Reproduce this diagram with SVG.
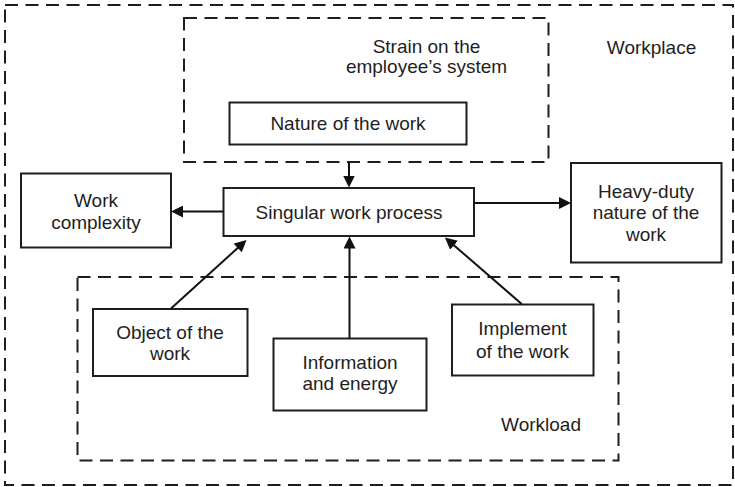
<svg xmlns="http://www.w3.org/2000/svg" width="735" height="487" viewBox="0 0 735 487">
  <style>
    .frame { fill: none; stroke: #1e1e1e; stroke-width: 2; stroke-dasharray: 13 7.5; }
    .box { fill: #ffffff; stroke: #1e1e1e; stroke-width: 2; }
    .lbl { font-family: "Liberation Sans", Arial, sans-serif; font-size: 19px; fill: #1e1e1e; text-anchor: middle; }
    .edge { fill: none; stroke: #111111; stroke-width: 2; }
  </style>
  <defs>
    <marker id="arrow" viewBox="0 0 12 12" refX="6" refY="6" markerWidth="12" markerHeight="12" markerUnits="userSpaceOnUse" orient="auto">
      <path d="M0,0 L12,6 L0,12 z" fill="#111111"/>
    </marker>
  </defs>
  <rect width="735" height="487" fill="#ffffff"/>

  <!-- dashed regions -->
  <g id="workplace">
    <rect class="frame" x="5" y="5" width="728" height="480"/>
    <text class="lbl" x="651.5" y="53.5">Workplace</text>
  </g>
  <g id="strain">
    <rect class="frame" x="184" y="18" width="364.5" height="144"/>
    <text class="lbl" x="426.5" y="53">Strain on the</text>
    <text class="lbl" x="426.5" y="72.5">employee’s system</text>
  </g>
  <g id="workload">
    <rect class="frame" x="77.5" y="277" width="541" height="183.5"/>
    <text class="lbl" x="541" y="431">Workload</text>
  </g>

  <!-- nodes -->
  <g id="nature">
    <rect class="box" x="229.5" y="102.5" width="237" height="42"/>
    <text class="lbl" x="348" y="130">Nature of the work</text>
  </g>
  <g id="process">
    <rect class="box" x="223.5" y="188" width="250.5" height="48"/>
    <text class="lbl" x="349" y="219">Singular work process</text>
  </g>
  <g id="complexity">
    <rect class="box" x="21" y="173.5" width="150" height="74"/>
    <text class="lbl" x="96" y="207">Work</text>
    <text class="lbl" x="96" y="228.5">complexity</text>
  </g>
  <g id="heavy">
    <rect class="box" x="571" y="163" width="150.5" height="99.5"/>
    <text class="lbl" x="646" y="198">Heavy-duty</text>
    <text class="lbl" x="646" y="219">nature of the</text>
    <text class="lbl" x="646" y="241">work</text>
  </g>
  <g id="object">
    <rect class="box" x="93" y="309" width="154.5" height="67"/>
    <text class="lbl" x="170" y="338.5">Object of the</text>
    <text class="lbl" x="170" y="360">work</text>
  </g>
  <g id="information">
    <rect class="box" x="273.5" y="338.5" width="153" height="72"/>
    <text class="lbl" x="350" y="368.5">Information</text>
    <text class="lbl" x="350" y="390">and energy</text>
  </g>
  <g id="implement">
    <rect class="box" x="452" y="304.5" width="141.5" height="71"/>
    <text class="lbl" x="522.5" y="335">Implement</text>
    <text class="lbl" x="522.5" y="357.5">of the work</text>
  </g>

  <!-- connectors -->
  <g id="connectors">
    <line class="edge" x1="349" y1="162" x2="349" y2="181.5" marker-end="url(#arrow)"/>
    <line class="edge" x1="223.5" y1="211.5" x2="177" y2="211.5" marker-end="url(#arrow)"/>
    <line class="edge" x1="474" y1="203" x2="565" y2="203" marker-end="url(#arrow)"/>
    <line class="edge" x1="171" y1="308.5" x2="242.1" y2="244" marker-end="url(#arrow)"/>
    <line class="edge" x1="349.5" y1="338.5" x2="349.5" y2="242.5" marker-end="url(#arrow)"/>
    <line class="edge" x1="521.7" y1="304" x2="449.5" y2="241.4" marker-end="url(#arrow)"/>
  </g>
</svg>
